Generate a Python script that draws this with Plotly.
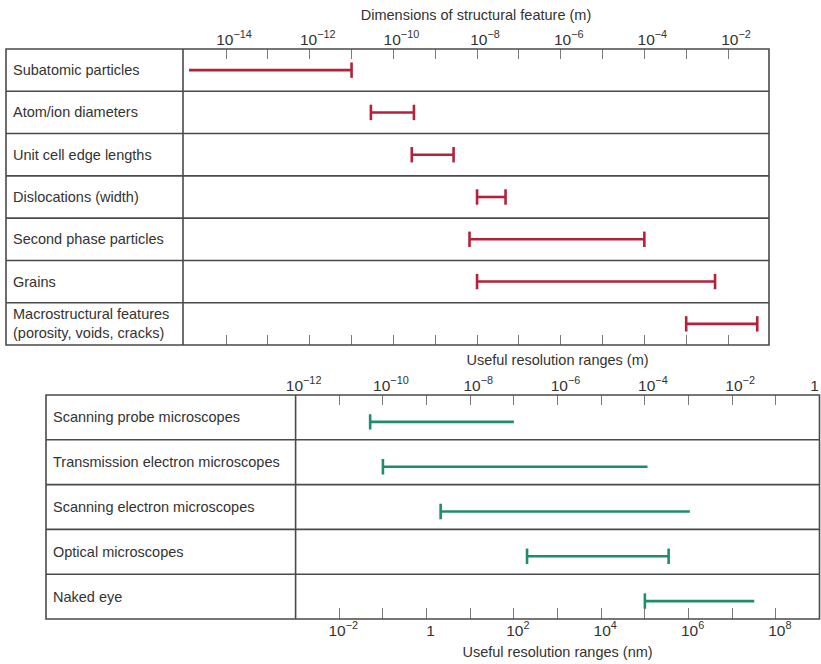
import plotly.graph_objects as go

W, H = 821, 664

# ---------------- data ----------------
features = ["Subatomic particles", "Atom/ion diameters", "Unit cell edge lengths",
            "Dislocations (width)", "Second phase particles", "Grains",
            "Macrostructural features<br>(porosity, voids, cracks)"]
feature_min = [1.3e-15, 2.9e-11, 2.75e-10, 1.0e-8, 6.6e-9, 1.0e-8, 1.0e-3]
feature_max = [1.0e-11, 3.1e-10, 2.75e-9, 4.8e-8, 1.0e-4, 4.9e-3, 5.0e-2]
feature_cap_lo = [False, True, True, True, True, True, True]
feature_cap_hi = [True, True, True, True, True, True, True]

instruments = ["Scanning probe microscopes", "Transmission electron microscopes",
               "Scanning electron microscopes", "Optical microscopes", "Naked eye"]
instr_min = [5.1e-11, 1.0e-10, 2.1e-9, 2.0e-7, 1.0e-4]
instr_max = [1.0e-7, 1.15e-4, 1.07e-3, 3.5e-4, 3.2e-2]
instr_cap_lo = [True, True, True, True, True]
instr_cap_hi = [False, False, False, True, False]

top_tickvals = [10.0 ** e for e in range(-14, -1)]
top_ticktext = ["10<sup>−14</sup>", "", "10<sup>−12</sup>", "", "10<sup>−10</sup>", "",
                "10<sup>−8</sup>", "", "10<sup>−6</sup>", "", "10<sup>−4</sup>", "",
                "10<sup>−2</sup>"]
m_tickvals = [10.0 ** e for e in range(-12, 1)]
m_ticktext = ["10<sup>−12</sup>", "", "10<sup>−10</sup>", "", "10<sup>−8</sup>", "",
              "10<sup>−6</sup>", "", "10<sup>−4</sup>", "", "10<sup>−2</sup>", "",
              "1\u00a0\u00a0\u00a0\u00a0\u00a0\u00a0"]
nm_tickvals = [10.0 ** e for e in range(-11, 0)]
nm_ticktext = ["10<sup>−2</sup>", "", "1", "", "10<sup>2</sup>", "", "10<sup>4</sup>", "",
               "10<sup>6</sup>", "", "10<sup>8</sup>"]

RED = "#b3223a"
GREEN = "#1f8c6b"
LINE = "#4a4a4a"
TICK = "#7a7a7a"
TXT = "#333333"
FONT = "Liberation Sans"
LBL = 14.5
TCK = 15.5

def px(x):
    return x / W

def py(y):
    return 1 - y / H

fig = go.Figure()

def add_ranges(names, lo, hi, cap_lo, cap_hi, color, xa, xa_cap, ya):
    for i in range(len(names)):
        fig.add_trace(go.Scatter(x=[lo[i], hi[i]], y=[i, i], mode="lines",
                                 line=dict(color=color, width=2.6),
                                 xaxis=xa, yaxis=ya, showlegend=False, hoverinfo="skip"))
        cx = []
        if cap_lo[i]:
            cx.append(lo[i])
        if cap_hi[i]:
            cx.append(hi[i])
        if cx:
            fig.add_trace(go.Scatter(x=cx, y=[i] * len(cx), mode="markers",
                                     marker=dict(symbol="line-ns", size=11,
                                                 line=dict(color=color, width=2.6)),
                                     xaxis=xa_cap, yaxis=ya, showlegend=False,
                                     hoverinfo="skip"))

add_ranges(features, feature_min, feature_max, feature_cap_lo, feature_cap_hi,
           RED, "x", "x3", "y")
add_ranges(instruments, instr_min, instr_max, instr_cap_lo, instr_cap_hi,
           GREEN, "x2", "x4", "y2")

# ---------------- geometry ----------------
T_L, T_DIV, T_R, T_T, T_B = 6, 183, 769, 49, 345
B_L, B_DIV, B_R, B_T, B_B = 46, 295.6, 819.5, 395, 619
G_SHIFT = 0.1  # green bars sit slightly below row centre

axis_common = dict(type="log", showgrid=False, zeroline=False, showline=False,
                   automargin=False, ticks="inside", tickcolor=TICK, tickwidth=1.3,
                   ticklabeloverflow="allow",
                   tickfont=dict(family=FONT, size=TCK, color=TXT))

fig.update_layout(
    width=W, height=H, margin=dict(l=0, r=0, t=0, b=0, autoexpand=False),
    paper_bgcolor="white", plot_bgcolor="white",
    font=dict(family=FONT, color=TXT),
    xaxis=dict(**axis_common, domain=[px(T_DIV), px(T_R)], range=[-15.03, -1.02],
               side="top", anchor="y", tickvals=top_tickvals, ticktext=top_ticktext, ticklen=10,
               ticklabelshift=8,
               title=dict(text="Dimensions of structural feature (m)",
                          font=dict(family=FONT, size=LBL, color=TXT), standoff=4)),
    xaxis3=dict(**axis_common, domain=[px(T_DIV), px(T_R)], range=[-15.03, -1.02],
                side="bottom", anchor="y", overlaying="x", tickvals=top_tickvals,
                showticklabels=False, ticklen=10),
    yaxis=dict(domain=[py(T_B), py(T_T)], range=[6.5, -0.5], visible=False),
    xaxis2=dict(**axis_common, domain=[px(B_DIV), px(B_R)], range=[-12, 0],
                side="top", anchor="y2", tickvals=m_tickvals, ticktext=m_ticktext, ticklen=10,
                ticklabelshift=8,
                title=dict(text="Useful resolution ranges (m)",
                           font=dict(family=FONT, size=LBL, color=TXT), standoff=5)),
    xaxis4=dict(**axis_common, domain=[px(B_DIV), px(B_R)], range=[-12, 0],
                side="bottom", anchor="y2", overlaying="x2", tickvals=nm_tickvals,
                ticktext=nm_ticktext, ticklen=11, ticklabelshift=4,
                title=dict(text="Useful resolution ranges (nm)",
                           font=dict(family=FONT, size=LBL, color=TXT), standoff=9)),
    yaxis2=dict(domain=[py(B_B), py(B_T)], range=[4.5 - G_SHIFT, -0.5 - G_SHIFT], visible=False),
)

shapes = []
lw = 1.6
shapes.append(dict(type="rect", xref="paper", yref="paper", x0=px(T_L), x1=px(T_R),
                   y0=py(T_B), y1=py(T_T), line=dict(color=LINE, width=lw)))
shapes.append(dict(type="line", xref="paper", yref="paper", x0=px(T_DIV), x1=px(T_DIV),
                   y0=py(T_B), y1=py(T_T), line=dict(color=LINE, width=lw)))
for i in range(len(features) - 1):
    shapes.append(dict(type="line", xref="paper", yref="y", x0=px(T_L), x1=px(T_R),
                       y0=i + 0.5, y1=i + 0.5, line=dict(color=LINE, width=lw)))
shapes.append(dict(type="rect", xref="paper", yref="paper", x0=px(B_L), x1=px(B_R),
                   y0=py(B_B), y1=py(B_T), line=dict(color=LINE, width=lw)))
shapes.append(dict(type="line", xref="paper", yref="paper", x0=px(B_DIV), x1=px(B_DIV),
                   y0=py(B_B), y1=py(B_T), line=dict(color=LINE, width=lw)))
for i in range(len(instruments) - 1):
    shapes.append(dict(type="line", xref="paper", yref="y2", x0=px(B_L), x1=px(B_R),
                       y0=i + 0.5 - G_SHIFT, y1=i + 0.5 - G_SHIFT,
                       line=dict(color=LINE, width=lw)))
fig.update_layout(shapes=shapes)

annotations = []
for i, name in enumerate(features):
    annotations.append(dict(text=name, xref="paper", yref="y", x=px(T_L + 5), y=i,
                            xanchor="left", yanchor="middle", showarrow=False, align="left",
                            font=dict(family=FONT, size=LBL, color=TXT)))
for i, name in enumerate(instruments):
    annotations.append(dict(text=name, xref="paper", yref="y2", x=px(B_L + 5), y=i - G_SHIFT,
                            xanchor="left", yanchor="middle", showarrow=False, align="left",
                            font=dict(family=FONT, size=LBL, color=TXT)))
fig.update_layout(annotations=annotations)

fig.write_html("out.html", config={"displayModeBar": False},
               post_script="document.body.style.margin='0';")
